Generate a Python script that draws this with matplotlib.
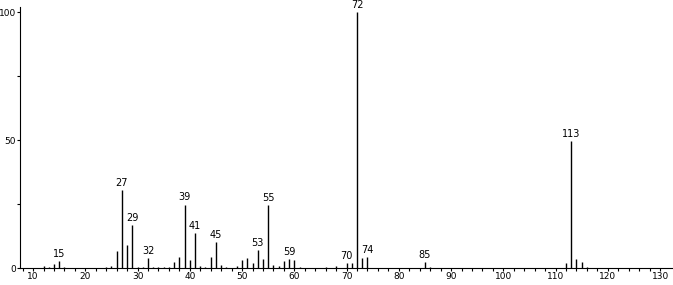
import numpy as np
import matplotlib.pyplot as plt

# m/z and relative intensity
mz = [12, 13, 14, 15, 16, 24, 25, 26, 27, 28, 29, 30, 31, 32, 33, 34, 35, 36, 37, 38,
      39, 40, 41, 42, 43, 44, 45, 46, 47, 49, 50, 51, 52, 53, 54, 55, 56, 57, 58, 59,
      60, 61, 66, 68, 70, 71, 72, 73, 74, 85, 86, 112, 113, 114, 115, 116]
intensity = [0.8, 0.5, 1.6, 2.9, 0.3, 0.3, 0.7, 6.6, 30.5, 9.1, 16.8, 0.3, 0.3, 3.9, 0.3, 0.3, 0.3, 0.4, 2.2, 4.2,
             24.8, 3.0, 13.5, 0.7, 0.3, 4.2, 10.0, 1.3, 0.3, 0.7, 3.0, 3.8, 1.8, 7.0, 3.4, 24.5, 1.3, 0.7, 2.9, 3.4,
             3.0, 0.3, 0.4, 0.7, 2.0, 2.0, 100.0, 3.9, 4.4, 2.2, 0.4, 2.0, 49.6, 3.4, 2.3, 0.4]
labeled = [15, 27, 29, 32, 39, 41, 45, 53, 55, 59, 70, 72, 74, 85, 113]

fig = plt.figure(figsize=(6.73, 2.85), dpi=100)
ax = fig.add_axes([0.0297, 0.0596, 0.969, 0.916])

ax.vlines(mz, 0, intensity, color='black', lw=1)
for m, v in zip(mz, intensity):
    if m in labeled:
        ax.text(m, v + 0.8, str(m), ha='center', va='bottom', fontsize=7)

ax.set_xlim(7.5, 132.3)
ax.set_ylim(0, 102)
ax.set_xticks(np.arange(10, 131, 10))
ax.set_xticks(np.arange(8, 132, 2), minor=True)
ax.set_yticks([0, 50, 100])
ax.set_yticks([25, 75], minor=True)
ax.tick_params(labelsize=6.5, length=2.5, width=0.8, pad=0.5)
ax.tick_params(which='minor', length=2, width=0.8)
for s in ['top', 'right']:
    ax.spines[s].set_visible(False)

fig.savefig('out.png', dpi=100)
